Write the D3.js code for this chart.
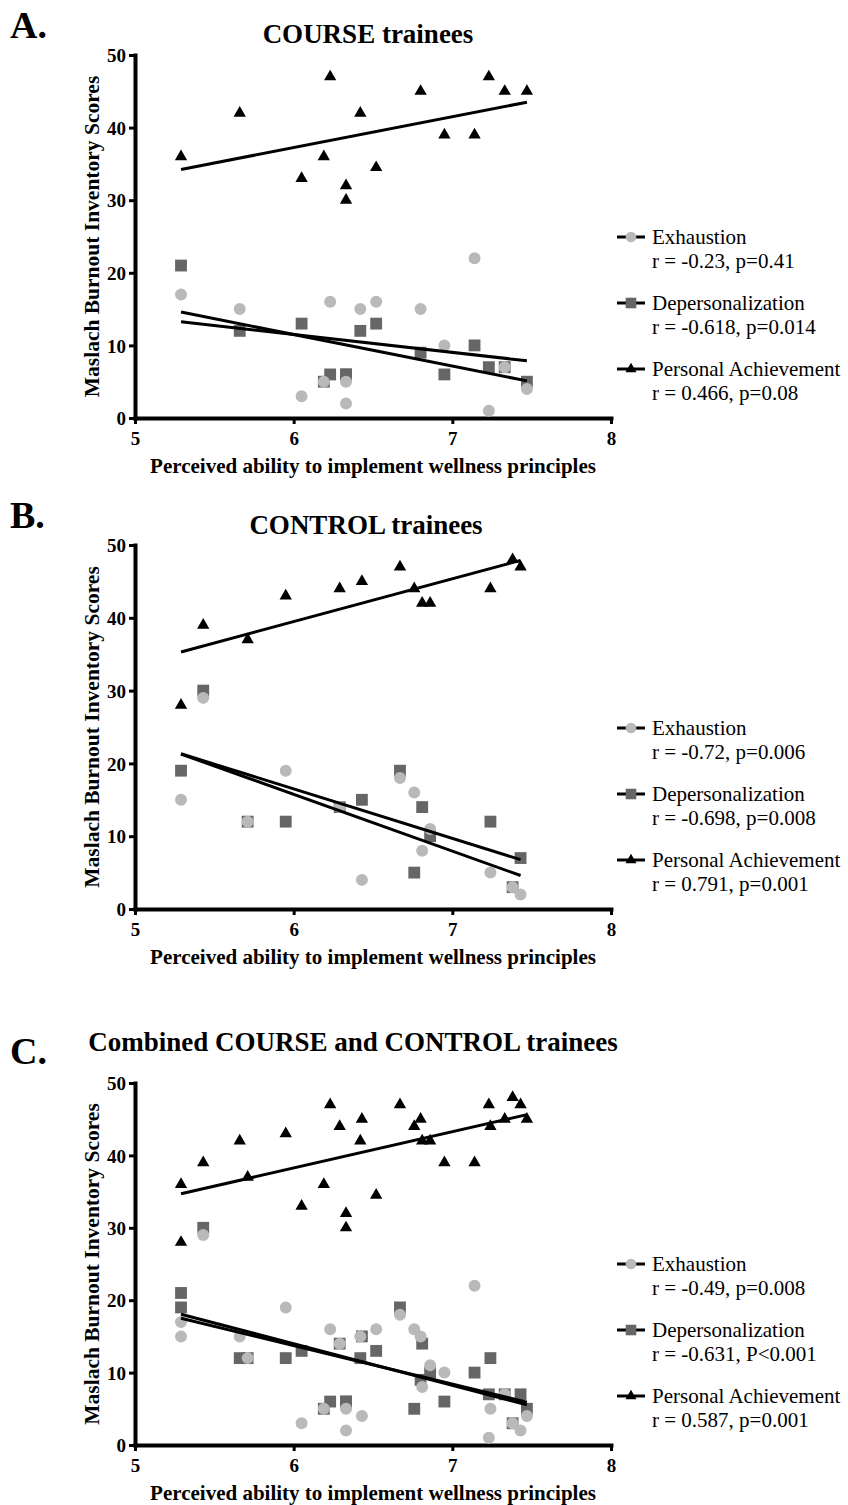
<!DOCTYPE html>
<html>
<head>
<meta charset="utf-8">
<script src="https://cdn.jsdelivr.net/npm/d3@7"></script>
<style>
  body { margin: 0; background: #fff; }
  svg { display: block; }
  text { font-family: "Liberation Serif", "Times New Roman", serif; fill: #000; }
</style>
</head>
<body>
<div id="chart"></div>
<script>
// ---- data ----
// COURSE trainees (one entry per trainee)
const courseX   = [5.29, 5.66, 6.05, 6.19, 6.23, 6.33, 6.33, 6.42, 6.52, 6.80, 6.95, 7.14, 7.23, 7.33, 7.47];
const courseExh = [17, 15, 3, 5, 16, 5, 2, 15, 16, 15, 10, 22, 1, 7, 4];
const courseDep = [21, 12, 13, 5, 6, 6, 6, 12, 13, 9, 6, 10, 7, 7, 5];
const coursePA  = [36, 42, 33, 36, 47, 32, 30, 42, 34.5, 45, 39, 39, 47, 45, 45];

// CONTROL trainees
const controlX   = [5.29, 5.43, 5.71, 5.95, 6.29, 6.43, 6.67, 6.76, 6.81, 6.86, 7.24, 7.38, 7.43];
const controlExh = [15, 29, 12, 19, 14, 4, 18, 16, 8, 11, 5, 3, 2];
const controlDep = [19, 30, 12, 12, 14, 15, 19, 5, 14, 10, 12, 3, 7];
const controlPA  = [28, 39, 37, 43, 44, 45, 47, 44, 42, 42, 44, 48, 47];

const seriesNames = ['Exhaustion', 'Depersonalization', 'Personal Achievement'];
const statsA = ['r = -0.23, p=0.41', 'r = -0.618, p=0.014', 'r = 0.466, p=0.08'];
const statsB = ['r = -0.72, p=0.006', 'r = -0.698, p=0.008', 'r = 0.791, p=0.001'];
const statsC = ['r = -0.49, p=0.008', 'r = -0.631, P<0.001', 'r = 0.587, p=0.001'];

const xTicks = [5, 6, 7, 8];
const yTicks = [0, 10, 20, 30, 40, 50];

const panels = [
  { letter: 'A.', title: 'COURSE trainees', stats: statsA,
    x: courseX, ys: [courseExh, courseDep, coursePA],
    top: 55, bottom: 418, letterY: 38, titleY: 43, titleX: 368 },
  { letter: 'B.', title: 'CONTROL trainees', stats: statsB,
    x: controlX, ys: [controlExh, controlDep, controlPA],
    top: 545, bottom: 909, letterY: 528, titleY: 534, titleX: 366 },
  { letter: 'C.', title: 'Combined COURSE and CONTROL trainees', stats: statsC,
    x: courseX.concat(controlX),
    ys: [courseExh.concat(controlExh), courseDep.concat(controlDep), coursePA.concat(controlPA)],
    top: 1083, bottom: 1445, letterY: 1064, titleY: 1051, titleX: 353 }
];

// marker styles: exhaustion circle, depersonalization square, achievement triangle
const markers = [
  { type: d3.symbolCircle, size: 113, fill: '#b9b9b9' },
  { type: d3.symbolSquare, size: 140, fill: '#666666' },
  { type: d3.symbolTriangle, size: 66, fill: '#000000' }
];
const drawOrder = [2, 1, 0];

function fitLine(xs, ys) {
  const mx = d3.mean(xs), my = d3.mean(ys);
  let sxy = 0, sxx = 0;
  xs.forEach((x, i) => { sxy += (x - mx) * (ys[i] - my); sxx += (x - mx) ** 2; });
  const b = sxy / sxx, a = my - b * mx;
  const [x0, x1] = d3.extent(xs);
  return [[x0, a + b * x0], [x1, a + b * x1]];
}

const W = 848, H = 1505;
const svg = d3.select('#chart').append('svg').attr('width', W).attr('height', H);

const plotLeft = 135, plotRight = 611;

panels.forEach(p => {
  const g = svg.append('g');
  const x = d3.scaleLinear().domain([5, 8]).range([plotLeft, plotRight]);
  const y = d3.scaleLinear().domain([0, 50]).range([p.bottom, p.top]);

  g.append('text').attr('x', 10).attr('y', p.letterY)
    .attr('font-size', 38).attr('font-weight', 'bold').text(p.letter);
  g.append('text').attr('x', p.titleX).attr('y', p.titleY)
    .attr('text-anchor', 'middle').attr('font-size', 27).attr('font-weight', 'bold')
    .text(p.title);

  // axes
  const yAxis = g.append('g').attr('transform', `translate(${plotLeft},0)`)
    .call(d3.axisLeft(y).tickValues(yTicks).tickSize(6).tickSizeOuter(0).tickPadding(3));
  const xAxis = g.append('g').attr('transform', `translate(0,${p.bottom})`)
    .call(d3.axisBottom(x).tickValues(xTicks).tickFormat(d3.format('d'))
      .tickSize(6).tickSizeOuter(0).tickPadding(8));
  [xAxis, yAxis].forEach(ax => {
    ax.select('.domain').attr('stroke', '#000').attr('stroke-width', 4).attr('stroke-linecap', 'square');
    ax.selectAll('.tick line').attr('stroke', '#000').attr('stroke-width', 3);
    ax.selectAll('.tick text').attr('font-family', '"Liberation Serif", serif')
      .attr('font-size', 19).attr('font-weight', 'bold').attr('fill', '#000');
  });
  yAxis.selectAll('.tick text').attr('dy', '0.35em');

  g.append('text')
    .attr('x', (plotLeft + plotRight) / 2).attr('y', p.bottom + 55)
    .attr('text-anchor', 'middle').attr('font-size', 21).attr('font-weight', 'bold')
    .text('Perceived ability to implement wellness principles');
  g.append('text')
    .attr('transform', `translate(99,${(p.top + p.bottom) / 2}) rotate(-90)`)
    .attr('text-anchor', 'middle').attr('font-size', 21.5).attr('font-weight', 'bold')
    .text('Maslach Burnout Inventory Scores');

  // points
  drawOrder.forEach(si => {
    const m = markers[si];
    g.append('g').selectAll('path')
      .data(p.x.map((xv, i) => [xv, p.ys[si][i]]))
      .join('path')
      .attr('transform', d => `translate(${x(d[0])},${y(d[1])})`)
      .attr('d', d3.symbol(m.type, m.size))
      .attr('fill', m.fill);
  });

  // regression lines
  const line = d3.line().x(d => x(d[0])).y(d => y(d[1]));
  p.ys.forEach(ys => {
    g.append('path').attr('d', line(fitLine(p.x, ys)))
      .attr('fill', 'none').attr('stroke', '#000').attr('stroke-width', 3);
  });

  // legend
  const rowOffsets = [-181, -115, -49];
  seriesNames.forEach((name, si) => {
    const cy = p.bottom + rowOffsets[si];
    const m = markers[si];
    g.append('line').attr('x1', 617).attr('x2', 645).attr('y1', cy).attr('y2', cy)
      .attr('stroke', '#000').attr('stroke-width', 3);
    g.append('path').attr('transform', `translate(631,${cy})`)
      .attr('d', d3.symbol(m.type, m.size * 0.8)).attr('fill', m.fill);
    g.append('text').attr('x', 652).attr('y', cy).attr('dy', '0.35em')
      .attr('font-size', 21).text(name);
    g.append('text').attr('x', 652).attr('y', cy + 24).attr('dy', '0.35em')
      .attr('font-size', 21).text(p.stats[si]);
  });
});
</script>
</body>
</html>
